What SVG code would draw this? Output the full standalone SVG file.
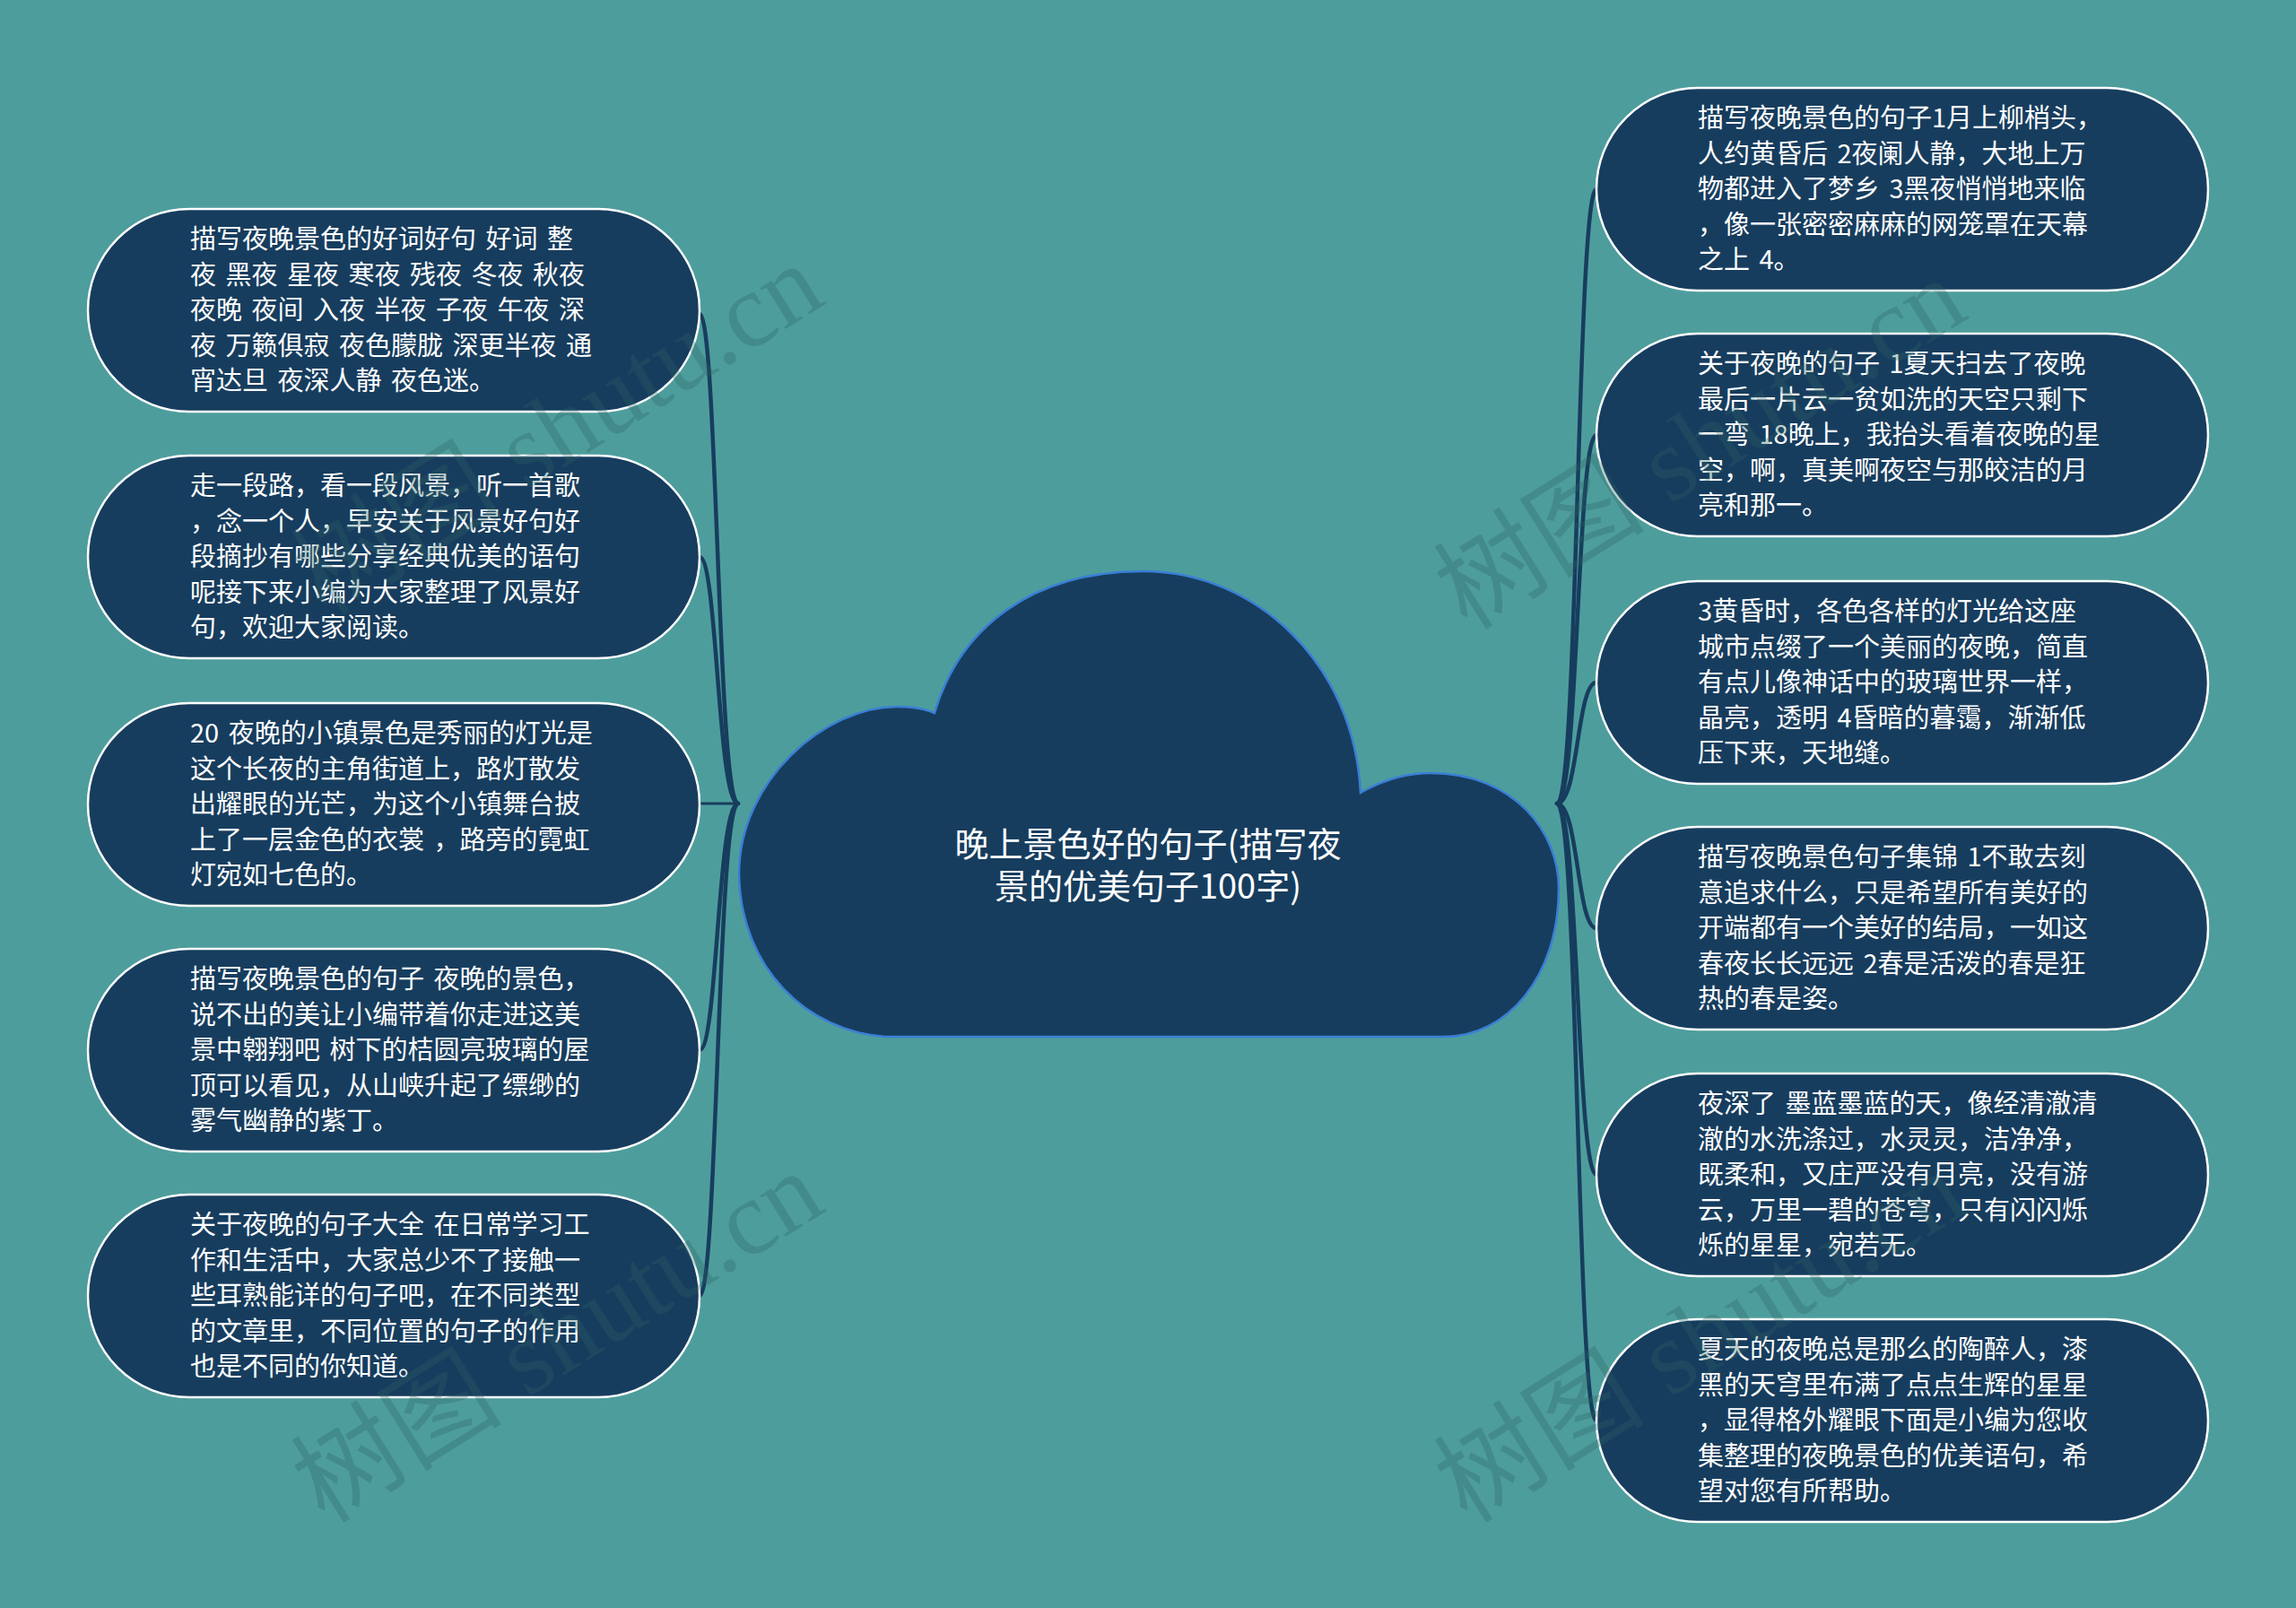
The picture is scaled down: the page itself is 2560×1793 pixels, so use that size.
<svg xmlns="http://www.w3.org/2000/svg" width="2560" height="1793" viewBox="0 0 2560 1793">
<style>
.bg{fill:#4e9d9d}
.node{fill:#173d5e;stroke:#ffffff;stroke-width:2.5}
.t{font-family:"Noto Sans CJK SC","Noto Sans",sans-serif;font-size:29px;word-spacing:4px;fill:#ffffff}
.ct{font-family:"Noto Sans CJK SC","Noto Sans",sans-serif;font-size:38px;fill:#ffffff;text-anchor:middle}
.cloud{fill:#173d5e;stroke:#3a7fd6;stroke-width:2.5}
.conn path{fill:none;stroke:#173d5e;stroke-width:4.5;stroke-linecap:round}
.wm{font-family:"Liberation Serif","Noto Sans CJK SC",serif;font-size:118px;fill:#2b6464;opacity:0.3}
</style>
<rect class="bg" x="0" y="0" width="2560" height="1793"/>

<g id="connectors" class="conn">
<path d="M823 896 C800 896,800 350,780 350"/>
<path d="M823 896 C800 896,800 621,780 621"/>
<path d="M823 896 L780 896" style="stroke-width:3"/>
<path d="M823 896 C800 896,800 1171,780 1171"/>
<path d="M823 896 C800 896,800 1445,780 1445"/>
<path d="M1736 896 C1760 896,1758 211,1780 211"/>
<path d="M1736 896 C1760 896,1758 485,1780 485"/>
<path d="M1736 896 C1760 896,1758 761,1780 761"/>
<path d="M1736 896 C1760 896,1758 1035,1780 1035"/>
<path d="M1736 896 C1760 896,1758 1310,1780 1310"/>
<path d="M1736 896 C1760 896,1758 1584,1780 1584"/>
</g>

<g id="center">
<path class="cloud" d="M987 1156 C900 1150,826 1080,824 975 C824 870,920 788,1000 788 C1015 788,1030 790,1042 795 C1070 700,1150 637,1275 637 C1400 637,1510 740,1517 884 C1545 868,1570 862,1595 862 C1690 862,1738 930,1738 990 C1738 1090,1680 1156,1610 1156 Z"/>
<text class="ct" x="1280" y="955">晚上景色好的句子(描写夜</text>
<text class="ct" x="1280" y="1002">景的优美句子100字)</text>
</g>

<g id="L1">
<rect class="node" x="98" y="233" width="682" height="226" rx="113"/>
<text class="t" x="212"><tspan x="212" y="277">描写夜晚景色的好词好句 好词 整</tspan><tspan x="212" y="316.5">夜 黑夜 星夜 寒夜 残夜 冬夜 秋夜</tspan><tspan x="212" y="356">夜晚 夜间 入夜 半夜 子夜 午夜 深</tspan><tspan x="212" y="395.5">夜 万籁俱寂 夜色朦胧 深更半夜 通</tspan><tspan x="212" y="435">宵达旦 夜深人静 夜色迷。</tspan></text>
</g>
<g id="L2">
<rect class="node" x="98" y="508" width="682" height="226" rx="113"/>
<text class="t" x="212"><tspan x="212" y="552">走一段路，看一段风景，听一首歌</tspan><tspan x="212" y="591.5">，念一个人，早安关于风景好句好</tspan><tspan x="212" y="631">段摘抄有哪些分享经典优美的语句</tspan><tspan x="212" y="670.5">呢接下来小编为大家整理了风景好</tspan><tspan x="212" y="710">句，欢迎大家阅读。</tspan></text>
</g>
<g id="L3">
<rect class="node" x="98" y="784" width="682" height="226" rx="113"/>
<text class="t" x="212"><tspan x="212" y="828">20 夜晚的小镇景色是秀丽的灯光是</tspan><tspan x="212" y="867.5">这个长夜的主角街道上，路灯散发</tspan><tspan x="212" y="907">出耀眼的光芒，为这个小镇舞台披</tspan><tspan x="212" y="946.5">上了一层金色的衣裳 ，路旁的霓虹</tspan><tspan x="212" y="986">灯宛如七色的。</tspan></text>
</g>
<g id="L4">
<rect class="node" x="98" y="1058" width="682" height="226" rx="113"/>
<text class="t" x="212"><tspan x="212" y="1102">描写夜晚景色的句子 夜晚的景色，</tspan><tspan x="212" y="1141.5">说不出的美让小编带着你走进这美</tspan><tspan x="212" y="1181">景中翱翔吧 树下的桔圆亮玻璃的屋</tspan><tspan x="212" y="1220.5">顶可以看见，从山峡升起了缥缈的</tspan><tspan x="212" y="1260">雾气幽静的紫丁。</tspan></text>
</g>
<g id="L5">
<rect class="node" x="98" y="1332" width="682" height="226" rx="113"/>
<text class="t" x="212"><tspan x="212" y="1376">关于夜晚的句子大全 在日常学习工</tspan><tspan x="212" y="1415.5">作和生活中，大家总少不了接触一</tspan><tspan x="212" y="1455">些耳熟能详的句子吧，在不同类型</tspan><tspan x="212" y="1494.5">的文章里，不同位置的句子的作用</tspan><tspan x="212" y="1534">也是不同的你知道。</tspan></text>
</g>

<g id="R1">
<rect class="node" x="1780" y="98" width="682" height="226" rx="113"/>
<text class="t" x="1893"><tspan x="1893" y="142">描写夜晚景色的句子1月上柳梢头，</tspan><tspan x="1893" y="181.5">人约黄昏后 2夜阑人静，大地上万</tspan><tspan x="1893" y="221">物都进入了梦乡 3黑夜悄悄地来临</tspan><tspan x="1893" y="260.5">，像一张密密麻麻的网笼罩在天幕</tspan><tspan x="1893" y="300">之上 4。</tspan></text>
</g>
<g id="R2">
<rect class="node" x="1780" y="372" width="682" height="226" rx="113"/>
<text class="t" x="1893"><tspan x="1893" y="416">关于夜晚的句子 1夏天扫去了夜晚</tspan><tspan x="1893" y="455.5">最后一片云一贫如洗的天空只剩下</tspan><tspan x="1893" y="495">一弯 18晚上，我抬头看着夜晚的星</tspan><tspan x="1893" y="534.5">空，啊，真美啊夜空与那皎洁的月</tspan><tspan x="1893" y="574">亮和那一。</tspan></text>
</g>
<g id="R3">
<rect class="node" x="1780" y="648" width="682" height="226" rx="113"/>
<text class="t" x="1893"><tspan x="1893" y="692">3黄昏时，各色各样的灯光给这座</tspan><tspan x="1893" y="731.5">城市点缀了一个美丽的夜晚，简直</tspan><tspan x="1893" y="771">有点儿像神话中的玻璃世界一样，</tspan><tspan x="1893" y="810.5">晶亮，透明 4昏暗的暮霭，渐渐低</tspan><tspan x="1893" y="850">压下来，天地缝。</tspan></text>
</g>
<g id="R4">
<rect class="node" x="1780" y="922" width="682" height="226" rx="113"/>
<text class="t" x="1893"><tspan x="1893" y="966">描写夜晚景色句子集锦 1不敢去刻</tspan><tspan x="1893" y="1005.5">意追求什么，只是希望所有美好的</tspan><tspan x="1893" y="1045">开端都有一个美好的结局，一如这</tspan><tspan x="1893" y="1084.5">春夜长长远远 2春是活泼的春是狂</tspan><tspan x="1893" y="1124">热的春是姿。</tspan></text>
</g>
<g id="R5">
<rect class="node" x="1780" y="1197" width="682" height="226" rx="113"/>
<text class="t" x="1893"><tspan x="1893" y="1241">夜深了 墨蓝墨蓝的天，像经清澈清</tspan><tspan x="1893" y="1280.5">澈的水洗涤过，水灵灵，洁净净，</tspan><tspan x="1893" y="1320">既柔和，又庄严没有月亮，没有游</tspan><tspan x="1893" y="1359.5">云，万里一碧的苍穹，只有闪闪烁</tspan><tspan x="1893" y="1399">烁的星星，宛若无。</tspan></text>
</g>
<g id="R6">
<rect class="node" x="1780" y="1471" width="682" height="226" rx="113"/>
<text class="t" x="1893"><tspan x="1893" y="1515">夏天的夜晚总是那么的陶醉人，漆</tspan><tspan x="1893" y="1554.5">黑的天穹里布满了点点生辉的星星</tspan><tspan x="1893" y="1594">，显得格外耀眼下面是小编为您收</tspan><tspan x="1893" y="1633.5">集整理的夜晚景色的优美语句，希</tspan><tspan x="1893" y="1673">望对您有所帮助。</tspan></text>
</g>

<g id="watermarks">
<text class="wm" transform="translate(362 1700) rotate(-32)" x="0" y="0">树图 shutu.cn</text>
<text class="wm" transform="translate(362 688) rotate(-32)">树图 shutu.cn</text>
<text class="wm" transform="translate(1636 704) rotate(-32)">树图 shutu.cn</text>
</g>
<g id="watermark4">
<text class="wm" transform="translate(1636 1700) rotate(-32)">树图 shutu.cn</text>
</g>
</svg>
